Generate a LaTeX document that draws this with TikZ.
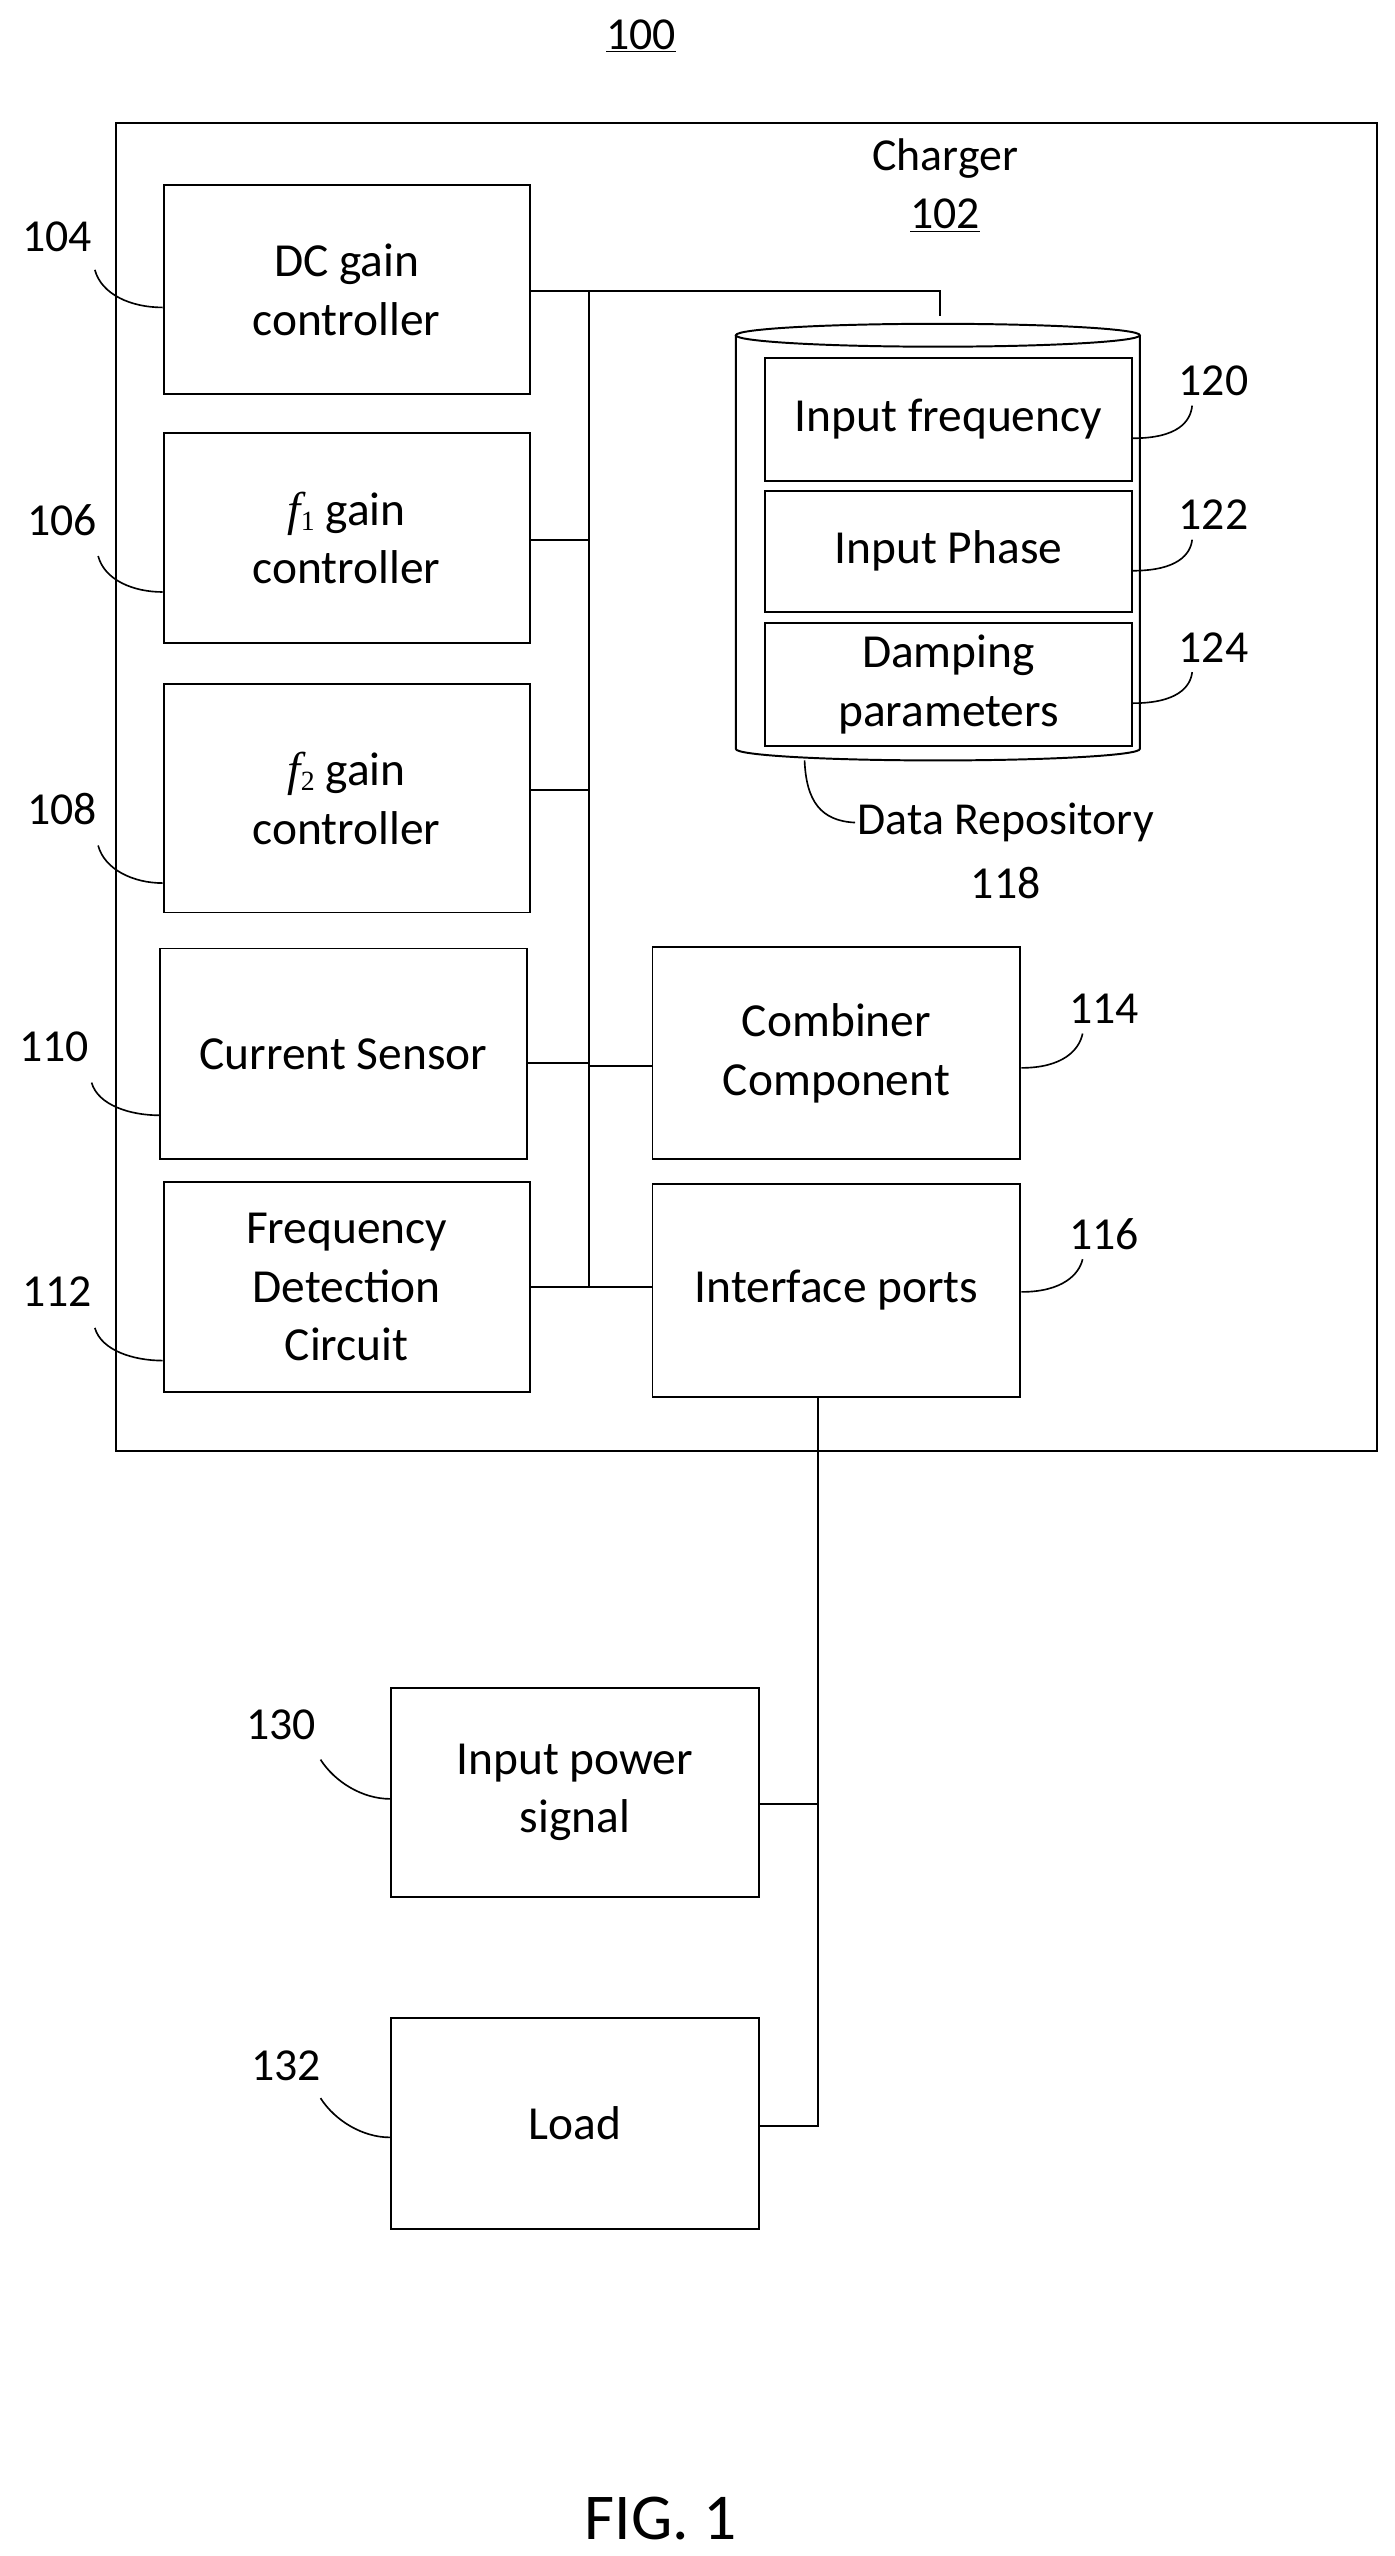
\documentclass[tikz,border=0pt]{standalone}
\usepackage{fontspec}
\setmainfont{Carlito}
\newfontfamily\tms{Liberation Serif}
\newcommand{\fsub}[1]{{\tms\itshape f}\raisebox{-0.25ex}{\tms\fontsize{17}{17}\selectfont #1}}
\begin{document}
\begin{tikzpicture}[x=1pt,y=-1pt,line width=1.2pt,
  box/.style={draw,inner sep=0pt,align=center,font=\fontsize{29}{36}\selectfont},
  lbl/.style={font=\fontsize{28}{30}\selectfont,inner sep=1pt},
  lead/.style={line width=1pt}]
\useasboundingbox (0,0) rectangle (853,1563);
\node[lbl] (t100) at (392,22) {\underline{100}};
\draw (71,75) rectangle (842,887);
\node[lbl] (charger) at (578,97) {Charger};
\node[lbl] (t102) at (578,132) {\underline{102}};
% left boxes
\node[box,minimum width=224pt,minimum height=128pt] (dc) at (212,177) {DC gain\\controller};
\node[box,minimum width=224pt,minimum height=128pt] (f1) at (212,329) {\fsub{1} gain\\controller};
\node[box,minimum width=224pt,minimum height=140pt] (f2) at (212,488) {\fsub{2} gain\\controller};
\node[box,minimum width=224pt,minimum height=129pt] (cs) at (210,644.5) {Current Sensor};
\node[box,minimum width=224pt,minimum height=128pt] (fdc) at (212,787) {Frequency\\Detection\\Circuit};
\node[box,minimum width=225pt,minimum height=130pt] (comb) at (511.5,644) {Combiner\\Component};
\node[box,minimum width=225pt,minimum height=130pt] (ip) at (511.5,789) {Interface ports};
% labels and leaders
\node[lbl] (l104) at (35,145) {104};
\node[lbl] (l106) at (38,318) {106};
\node[lbl] (l108) at (38,495) {108};
\node[lbl] (l110) at (33,640) {110};
\node[lbl] (l112) at (35,790) {112};
\draw[lead] (58,165) .. controls (62,180) and (80,188) .. (dc.west|-0,188);
\draw[lead] (60,340) .. controls (64,355) and (82,362) .. (f1.west|-0,362);
\draw[lead] (60,517) .. controls (64,532) and (82,540) .. (f2.west|-0,540);
\draw[lead] (56,662) .. controls (60,676) and (80,682) .. (cs.west|-0,682);
\draw[lead] (58,812) .. controls (62,826) and (82,832) .. (fdc.west|-0,832);
% cylinder
\coordinate (dbtop) at (575,193);
\draw[fill=white] (450,205) -- (450,458) arc[start angle=180,end angle=360,x radius=123.5pt,y radius=7pt] -- (697,205);
\draw (573.5,205) ellipse[x radius=123.5pt,y radius=7pt];
\node[box,minimum width=224pt,minimum height=75pt] (in1) at (580,256.5) {Input frequency};
\node[box,minimum width=224pt,minimum height=74pt] (in2) at (580,337) {Input Phase};
\node[box,minimum width=224pt,minimum height=75pt] (in3) at (580,418.5) {Damping\\parameters};
\node[lbl] (l120) at (742,233) {120};
\node[lbl] (l122) at (742,315) {122};
\node[lbl] (l124) at (742,396) {124};
\draw[lead] (in1.east|-0,268) .. controls (720,268) and (728,258) .. (729,248);
\draw[lead] (in2.east|-0,349) .. controls (720,349) and (728,339) .. (729,330);
\draw[lead] (in3.east|-0,430) .. controls (720,430) and (728,420) .. (729,411);
\node[lbl] (drep) at (615,503) {Data Repository};
\node[lbl] (l118) at (615,540) {118};
\draw[lead] (492,465) .. controls (493,490) and (502,502) .. (drep.west);
\node[lbl] (l114) at (675,617) {114};
\node[lbl] (l116) at (675,755) {116};
\draw[lead] (comb.east|-0,653) .. controls (650,653) and (660,642) .. (662,632);
\draw[lead] (ip.east|-0,790) .. controls (650,790) and (660,779) .. (662,770);
% bus
\draw (dc.east|-0,178) -- (575,178) -- (dbtop);
\draw (360,178) -- (360,787);
\draw (f1.east|-0,330) -- (360,330);
\draw (f2.east|-0,483) -- (360,483);
\draw (cs.east|-0,650) -- (360,650);
\draw (360,652) -- (comb.west|-0,652);
\draw (fdc.east|-0,787) -- (ip.west|-0,787);
% bottom
\node[box,minimum width=225pt,minimum height=128pt] (ips) at (351.5,1096) {Input power\\signal};
\node[box,minimum width=225pt,minimum height=129pt] (load) at (351.5,1298.5) {Load};
\node[lbl] (l130) at (172,1055) {130};
\node[lbl] (l132) at (175,1263) {132};
\draw[lead] (196,1076) .. controls (205,1090) and (222,1100) .. (ips.west|-0,1100);
\draw[lead] (196,1283) .. controls (205,1297) and (222,1307) .. (load.west|-0,1307);
\coordinate (j1) at (500,1103);
\coordinate (j2) at (500,1300);
\draw (ip.south-|j1) -- (j2) -- (load.east|-j2);
\draw (ips.east|-j1) -- (j1);
\node[font=\fontsize{40}{44}\selectfont] (fig) at (404,1540) {FIG. 1};
\end{tikzpicture}
\end{document}
